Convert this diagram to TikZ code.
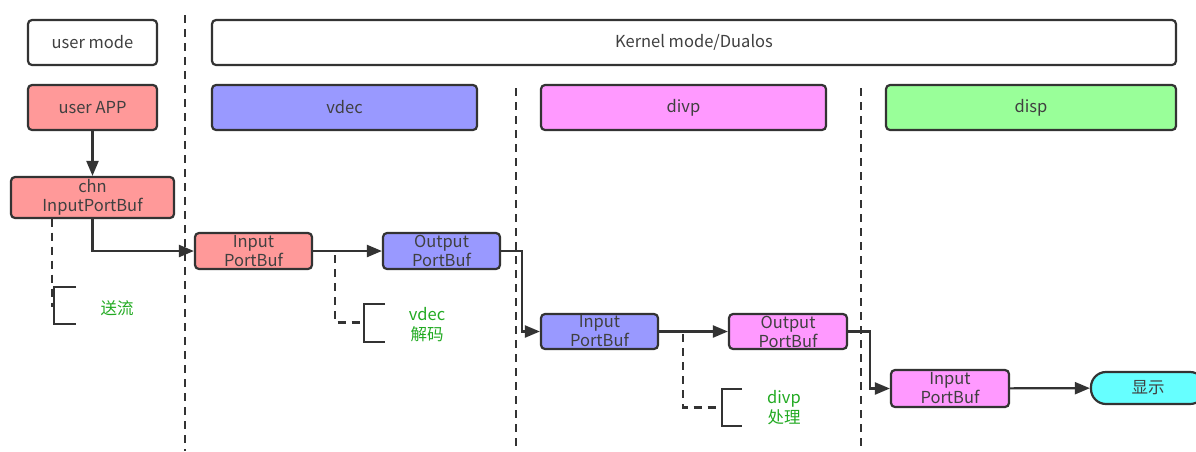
\documentclass[tikz,border=0pt]{standalone}
\usepackage{fontspec}
\setmainfont{Noto Sans CJK SC}
\usetikzlibrary{arrows.meta}
\definecolor{ink}{HTML}{333333}
\definecolor{txt}{HTML}{404040}
\definecolor{cred}{HTML}{FF9999}
\definecolor{cblue}{HTML}{9999FF}
\definecolor{cmag}{HTML}{FF99FF}
\definecolor{cgreen}{HTML}{99FF99}
\definecolor{ccyan}{HTML}{66FFFF}
\definecolor{note}{HTML}{22AA22}
\tikzset{
  box/.style={draw=ink, line width=2.2pt, rounded corners=4pt, inner sep=0pt,
    text=txt, align=center, font=\fontsize{16.5}{19}\selectfont},
  conn/.style={draw=ink, line width=2.2pt, -{Triangle[length=15pt,width=12pt]}},
  sep/.style={draw=ink, line width=2.2pt, dash pattern=on 8pt off 6pt},
  dconn/.style={draw=ink, line width=2.2pt, dash pattern=on 8pt off 6pt},
  brk/.style={draw=ink, line width=2.2pt},
  notetext/.style={text=note, align=center, font=\fontsize{16.5}{20}\selectfont}
}
\begin{document}
\begin{tikzpicture}[x=1pt,y=-1pt]
\useasboundingbox (0,0) rectangle (1196,451);
% separators
\draw[sep] (185,15) -- (185,451);
\draw[sep] (516,88) -- (516,451);
\draw[sep] (861,88) -- (861,451);
% header boxes
\node[box, fill=white, minimum width=129pt, minimum height=45pt] (um) at (92.5,42.5) {user mode};
\node[box, fill=white, minimum width=964pt, minimum height=45pt] (km) at (694,42.5) {Kernel mode/Dualos};
\node[box, fill=cred, minimum width=129pt, minimum height=45pt] (app) at (92.5,107.5) {user APP};
\node[box, fill=cblue, minimum width=265pt, minimum height=45pt] (vdec) at (344.5,107.5) {vdec};
\node[box, fill=cmag, minimum width=285pt, minimum height=45pt] (divp) at (683.5,107.5) {divp};
\node[box, fill=cgreen, minimum width=290pt, minimum height=45pt] (disp) at (1031,107.5) {disp};
% buffers
\node[box, fill=cred, minimum width=163pt, minimum height=41pt] (chn) at (92.5,197.5) {chn\\InputPortBuf};
\node[box, fill=cred, minimum width=117pt, minimum height=36pt] (in1) at (253.5,251) {Input\\PortBuf};
\node[box, fill=cblue, minimum width=117pt, minimum height=36pt] (out1) at (441.5,251) {Output\\PortBuf};
\node[box, fill=cblue, minimum width=117pt, minimum height=35pt] (in2) at (599.5,331.5) {Input\\PortBuf};
\node[box, fill=cmag, minimum width=118pt, minimum height=35pt] (out2) at (788,331.5) {Output\\PortBuf};
\node[box, fill=cmag, minimum width=118pt, minimum height=37pt] (in3) at (950,388.5) {Input\\PortBuf};
\node[box, fill=ccyan, rounded corners=15pt, minimum width=114pt, minimum height=32pt] (show) at (1148,388) {显示};
% connectors
\draw[conn] (app) -- (chn);
\draw[conn] (chn.south) |- (in1.west);
\draw[conn] (in1) -- (out1);
\draw[conn] (out1.east) -- ++(21,0) |- (in2.west);
\draw[conn] (in2) -- (out2);
\draw[conn] (out2.east) -- ++(22,0) |- (in3.west);
\draw[conn] (in3) -- (show);
% annotations
\coordinate (a1) at (52,218.5);
\coordinate (b1) at (54,305.5);
\draw[dconn] (a1) -- (52,305.5) -- (b1);
\draw[brk] (76,287) -- (54,287) -- (54,324) -- (76,324);
\node[notetext] (n1) at (117,308) {送流};

\coordinate (a2) at (335,255);
\coordinate (b2) at (364,322.5);
\draw[dconn] (a2) |- (b2);
\draw[brk] (385,304) -- (364,304) -- (364,342) -- (385,342);
\node[notetext] (n2) at (427,325) {vdec\\解码};

\coordinate (a3) at (683,334);
\coordinate (b3) at (722,407.5);
\draw[dconn] (a3) |- (b3);
\draw[brk] (742,389) -- (722,389) -- (722,426) -- (742,426);
\node[notetext] (n3) at (784,408) {divp\\处理};
\end{tikzpicture}
\end{document}
